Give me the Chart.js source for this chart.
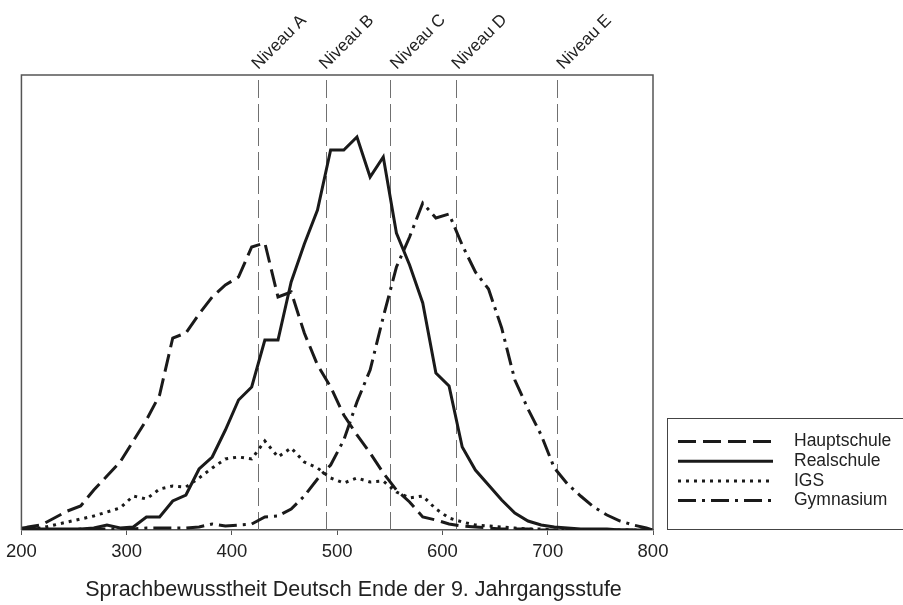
<!DOCTYPE html>
<html>
<head>
<meta charset="utf-8">
<script src="https://cdn.jsdelivr.net/npm/chart.js@4.4.1/dist/chart.umd.min.js"></script>
<style>
  html, body { margin: 0; padding: 0; background: #fff; }
  #wrap { position: relative; width: 903px; height: 605px; }
</style>
</head>
<body>
<div id="wrap"><canvas id="kompetenzChart"></canvas></div>
<script>
/* Data (relative frequencies, arbitrary units) */
const scores = [
  200, 206.25, 218.75, 231.25, 243.75, 256.25, 268.75, 281.25, 293.75,
  306.25, 318.75, 331.25, 343.75, 356.25, 368.75, 381.25, 393.75,
  406.25, 418.75, 431.25, 443.75, 456.25, 468.75, 481.25, 493.75,
  506.25, 518.75, 531.25, 543.75, 556.25, 568.75, 581.25, 593.75,
  606.25, 618.75, 631.25, 643.75, 656.25, 668.75, 681.25, 693.75,
  706.25, 718.75, 731.25, 743.75, 756.25, 768.75, 781.25, 793.75, 800
];
const hauptschule = [
  0.1, 0.3, 0.5, 1.2, 1.9, 2.4, 4.0, 5.4, 6.8,
  8.9, 11.0, 13.5, 19.2, 19.7, 21.6, 23.3, 24.5,
  25.3, 28.3, 28.7, 23.3, 23.8, 19.7, 16.5, 14.3,
  11.5, 9.5, 7.7, 5.7, 4.0, 2.8, 1.3, 1.0,
  0.6, 0.4, 0.3, 0.2, 0.1, 0.1, 0.1, 0,
  0, 0, 0, 0, 0, 0, 0, 0, 0
];
const realschule = [
  0.2, 0.2, 0.1, 0.1, 0.1, 0.1, 0.2, 0.5, 0.2,
  0.3, 1.3, 1.3, 2.9, 3.5, 6.1, 7.3, 10.0,
  13.0, 14.3, 19.0, 19.0, 24.8, 28.6, 32.0, 38.0,
  38.0, 39.3, 35.3, 37.3, 29.7, 26.5, 22.7, 15.7,
  14.4, 8.3, 6.0, 4.5, 3.0, 1.7, 0.9, 0.5,
  0.3, 0.2, 0.1, 0.1, 0.1, 0, 0, 0, 0
];
const igs = [
  0.1, 0.1, 0.2, 0.5, 0.8, 1.1, 1.4, 1.8, 2.2,
  3.4, 3.1, 4.1, 4.4, 4.3, 5.2, 6.2, 7.1,
  7.3, 7.1, 8.9, 7.3, 8.2, 6.8, 6.2, 5.2,
  4.7, 5.2, 4.8, 4.9, 3.8, 3.2, 3.4, 2.1,
  1.2, 0.8, 0.5, 0.4, 0.3, 0.2, 0.1, 0.1,
  0, 0, 0, 0, 0, 0, 0, 0, 0
];
const gymnasium = [
  0, 0, 0, 0, 0, 0.1, 0.1, 0.1, 0.1,
  0.1, 0.2, 0.2, 0.2, 0.2, 0.3, 0.6, 0.4,
  0.5, 0.6, 1.3, 1.4, 2.1, 3.4, 5.1, 6.5,
  9.0, 12.8, 16.0, 21.3, 26.3, 29.3, 32.7, 31.2,
  31.6, 28.5, 25.8, 24.1, 20.2, 15.0, 12.1, 9.5,
  6.2, 4.6, 3.4, 2.3, 1.5, 0.9, 0.5, 0.2, 0
];
const niveau_labels = ['Niveau A', 'Niveau B', 'Niveau C', 'Niveau D', 'Niveau E'];
const niveau_values = [425, 489, 550, 613, 709];
const x_ticks = [200, 300, 400, 500, 600, 700, 800];
const x_title = 'Sprachbewusstheit Deutsch Ende der 9. Jahrgangsstufe';

const series_names = ['Hauptschule', 'Realschule', 'IGS', 'Gymnasium'];
const series_values = [hauptschule, realschule, igs, gymnasium];
const series_dash = [[18, 7], [], [3, 5], [18, 6, 3, 6]];

const font_family = '"Liberation Sans", Arial, sans-serif';
const ink = '#1a1a1a';

const toPoints = (values) => scores.map((s, i) => ({ x: s, y: values[i] }));

/* Plugins */
const niveauPlugin = {
  id: 'niveaus',
  beforeDatasetsDraw(chart) {
    const { ctx, chartArea, scales } = chart;
    ctx.save();
    ctx.strokeStyle = '#707070';
    ctx.lineWidth = 1;
    ctx.setLineDash([18, 6]);
    niveau_values.forEach((v) => {
      const px = Math.round(scales.x.getPixelForValue(v)) + 0.5;
      ctx.beginPath();
      ctx.moveTo(px, chartArea.top + 5);
      ctx.lineTo(px, chartArea.bottom);
      ctx.stroke();
    });
    ctx.restore();
  },
  afterDraw(chart) {
    const { ctx, scales } = chart;
    // label nudges, px, as placed in the original figure
    const shift = [0, 0, 7, 2, 6];
    ctx.save();
    ctx.fillStyle = '#222';
    ctx.font = '17px ' + font_family;
    ctx.textAlign = 'left';
    ctx.textBaseline = 'alphabetic';
    niveau_values.forEach((v, i) => {
      const px = scales.x.getPixelForValue(v);
      ctx.save();
      ctx.translate(px + shift[i], 70);
      ctx.rotate(-Math.PI / 4);
      ctx.fillText(niveau_labels[i], 0, 0);
      ctx.restore();
    });
    // axis title, sits a bit right of the plot centre
    ctx.font = '21.5px ' + font_family;
    ctx.textAlign = 'center';
    ctx.textBaseline = 'middle';
    ctx.fillText(x_title, 353.5, 590);
    ctx.restore();
  }
};

const framePlugin = {
  id: 'frame',
  afterDatasetsDraw(chart) {
    const { ctx, chartArea } = chart;
    ctx.save();
    ctx.strokeStyle = '#555';
    ctx.lineWidth = 1.5;
    ctx.beginPath();
    ctx.moveTo(chartArea.left, chartArea.bottom);
    ctx.lineTo(chartArea.left, chartArea.top);
    ctx.lineTo(chartArea.right, chartArea.top);
    ctx.lineTo(chartArea.right, chartArea.bottom);
    ctx.stroke();
    ctx.restore();
  }
};

const legendPlugin = {
  id: 'boxLegend',
  afterDraw(chart) {
    const { ctx } = chart;
    const box_left = 667.5, box_top = 418.5, box_bottom = 529.5;
    ctx.save();
    ctx.strokeStyle = '#444';
    ctx.lineWidth = 1;
    ctx.strokeRect(box_left, box_top, 260, box_bottom - box_top);
    chart.data.datasets.forEach((ds, i) => {
      const y = 441.5 + i * 19.7;
      ctx.strokeStyle = ink;
      ctx.lineWidth = 3;
      ctx.setLineDash(ds.borderDash || []);
      ctx.beginPath();
      ctx.moveTo(678, y);
      ctx.lineTo(773, y);
      ctx.stroke();
      ctx.setLineDash([]);
      ctx.fillStyle = '#222';
      ctx.font = '17.5px ' + font_family;
      ctx.textBaseline = 'middle';
      ctx.fillText(ds.label, 794, y);
    });
    ctx.restore();
  }
};

/* Chart */
const chart_element = document.getElementById('kompetenzChart');
const datasets = series_names.map((name, i) => ({
  label: name,
  data: toPoints(series_values[i]),
  borderColor: ink,
  borderWidth: 3,
  borderDash: series_dash[i],
  pointRadius: 0,
  tension: 0,
  fill: false
}));

new Chart(chart_element.getContext('2d'), {
  type: 'line',
  data: { datasets: datasets },
  options: {
    responsive: true,
    maintainAspectRatio: false,
    animation: false,
    layout: { padding: { left: 21, top: 75, right: 250, bottom: 0 } },
    plugins: {
      legend: { display: false },
      tooltip: { enabled: false }
    },
    scales: {
      x: {
        type: 'linear',
        min: 200,
        max: 800,
        afterBuildTicks: (scale) => {
          scale.ticks = x_ticks.map((v) => ({ value: v }));
        },
        afterFit: (scale) => { scale.height = 75; },
        ticks: {
          color: '#222',
          padding: 6,
          font: { family: font_family, size: 18.5 }
        },
        grid: {
          drawOnChartArea: false,
          drawTicks: true,
          tickLength: 5,
          color: '#555'
        },
        border: { display: true, color: '#555', width: 1.5 }
      },
      y: {
        display: false,
        min: 0,
        max: 45.5
      }
    }
  },
  plugins: [niveauPlugin, framePlugin, legendPlugin]
});
</script>
</body>
</html>
